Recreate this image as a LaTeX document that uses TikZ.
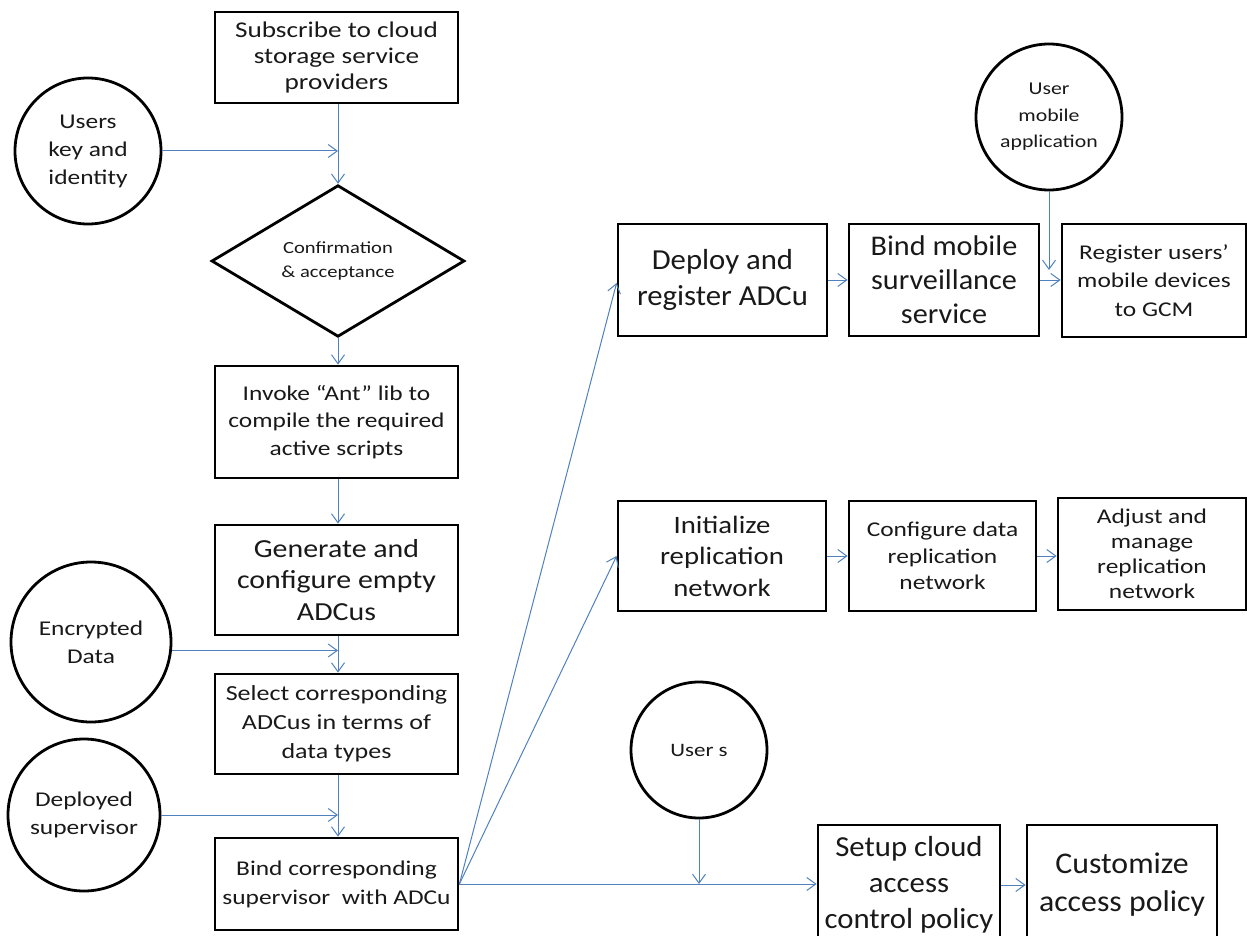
\documentclass[tikz,border=0pt]{standalone}
\usepackage{fontspec}
\setmainfont{Carlito}
% widened cuts of the same face for small, medium and large labels
\newfontfamily\smallface[FakeStretch=1.21]{Carlito}
\newfontfamily\midface[FakeStretch=1.15]{Carlito}
\newfontfamily\largeface[FakeStretch=1.06]{Carlito}
\usetikzlibrary{arrows.meta,shapes.geometric}
\definecolor{flowblue}{RGB}{79,129,189}
\definecolor{inkgray}{RGB}{25,25,25}
\begin{document}
\begin{tikzpicture}[x=1pt,y=1pt,
  stepbox/.style={draw=black,line width=2.8pt,rectangle,inner sep=0pt,align=center,text=inkgray},
  source/.style={draw=black,line width=2.8pt,circle,inner sep=0pt,align=center,text=inkgray},
  choice/.style={draw=black,line width=2.8pt,diamond,inner sep=0pt,align=center,text=inkgray},
  flow/.style={draw=flowblue,line width=1pt,-{Straight Barb[length=9pt,width=13pt,line width=1pt]}}
]
\useasboundingbox (0,0) rectangle (1247,-936);

% ---- left column ----
\node[stepbox,minimum width=243,minimum height=91,font=\smallface\fontsize{22.5}{26}\selectfont] (sub) at (336.5,-57.5)
  {Subscribe to cloud\\storage service\\providers};
\node[source,minimum size=146,font=\smallface\fontsize{21}{28}\selectfont] (users) at (88,-151)
  {Users\\key and\\identity};
\node[choice,minimum width=253,minimum height=148,font=\smallface\fontsize{17}{24}\selectfont] (conf0) at (338,-261)
  {Confirmation\\\& acceptance};
\node[stepbox,minimum width=243,minimum height=112,font=\smallface\fontsize{21}{27.5}\selectfont] (invoke) at (336.5,-422)
  {Invoke “Ant” lib to\\compile the required\\active scripts};
\node[stepbox,minimum width=243,minimum height=110,font=\midface\fontsize{26}{31.5}\selectfont] (gen) at (336.5,-580)
  {Generate and\\configure empty\\ADCus};
\node[source,minimum size=160,font=\smallface\fontsize{21}{28}\selectfont] (enc) at (91,-642)
  {Encrypted\\Data};
\node[stepbox,minimum width=243,minimum height=100,font=\smallface\fontsize{21.5}{29}\selectfont] (sel) at (336.5,-724)
  {Select corresponding\\ADCus in terms of\\data types};
\node[source,minimum size=152,font=\smallface\fontsize{21}{28}\selectfont] (dep) at (84,-815)
  {Deployed\\supervisor};
\node[stepbox,minimum width=243,minimum height=92,font=\smallface\fontsize{21}{29}\selectfont] (bind) at (336.5,-884)
  {Bind corresponding\\supervisor\ \ with ADCu};

% ---- mobile row ----
\node[stepbox,minimum width=209,minimum height=112,font=\largeface\fontsize{29}{36}\selectfont] (deploy) at (722.5,-280)
  {Deploy and\\register ADCu};
\node[stepbox,minimum width=190,minimum height=112,font=\largeface\fontsize{28.5}{34}\selectfont] (bmob) at (944,-280)
  {Bind mobile\\surveillance\\service};
\node[stepbox,minimum width=184,minimum height=113,font=\smallface\fontsize{21}{28.5}\selectfont] (reg) at (1154,-280.5)
  {Register users’\\mobile devices\\to GCM};
\node[source,minimum size=146,font=\smallface\fontsize{18}{26.5}\selectfont] (uma) at (1049,-117)
  {User\\mobile\\application};

% ---- replication row ----
\node[stepbox,minimum width=208,minimum height=110,font=\midface\fontsize{25}{31.5}\selectfont] (init) at (722,-556)
  {Initialize\\replication\\network};
\node[stepbox,minimum width=187,minimum height=110,font=\smallface\fontsize{21}{26.5}\selectfont] (cfg) at (942.5,-556)
  {Configure data\\replication\\network};
\node[stepbox,minimum width=188,minimum height=112,font=\smallface\fontsize{21}{25}\selectfont] (adj) at (1152,-554)
  {Adjust and\\manage\\replication\\network};

% ---- access row ----
\node[source,minimum size=136,font=\smallface\fontsize{19}{24}\selectfont] (usr) at (699,-750)
  {User s};
\node[stepbox,minimum width=182,minimum height=120,font=\largeface\fontsize{29}{36}\selectfont] (setup) at (909,-885)
  {Setup cloud\\access\\control policy};
\node[stepbox,minimum width=190,minimum height=120,font=\largeface\fontsize{30}{38}\selectfont] (cust) at (1122,-885)
  {Customize\\access policy};

% ---- connectors: left column ----
\draw[flow] (sub.south -| conf0.north) -- (conf0.north);
\draw[flow] (users.east) -- (users.east -| conf0.north);
\draw[flow] (conf0.south) -- (conf0.south |- invoke.north);
\draw[flow] (invoke.south -| conf0.south) -- (gen.north -| conf0.south);
\draw[flow] (gen.south -| conf0.south) -- (sel.north -| conf0.south);
\draw[flow] (enc.-6) -- (enc.-6 -| conf0.south);
\draw[flow] (sel.south -| conf0.south) -- (bind.north -| conf0.south);
\draw[flow] (dep.east) -- (dep.east -| conf0.south);

% ---- connectors: fan-out from the binding step ----
\coordinate (fan) at (bind.east);
\draw[flow] (fan) -- ([yshift=-3pt]deploy.west);
\draw[flow] (fan) -- (init.west);
\draw[flow] (fan) -- (fan -| setup.west);
\coordinate (usrjoin) at (usr.south |- fan);
\draw[flow] (usr.south) -- (usrjoin);

% ---- connectors: right rows ----
\draw[flow] (deploy.east) -- (deploy.east -| bmob.west);
\draw[flow] (bmob.east) -- (bmob.east -| reg.west);
\coordinate (umajoin) at (1049,-270);
\draw[flow] (uma.south) -- (umajoin);
\draw[flow] (init.east) -- (init.east -| cfg.west);
\draw[flow] (cfg.east) -- (cfg.east -| adj.west);
\draw[flow] (setup.east) -- (setup.east -| cust.west);
\end{tikzpicture}
\end{document}
